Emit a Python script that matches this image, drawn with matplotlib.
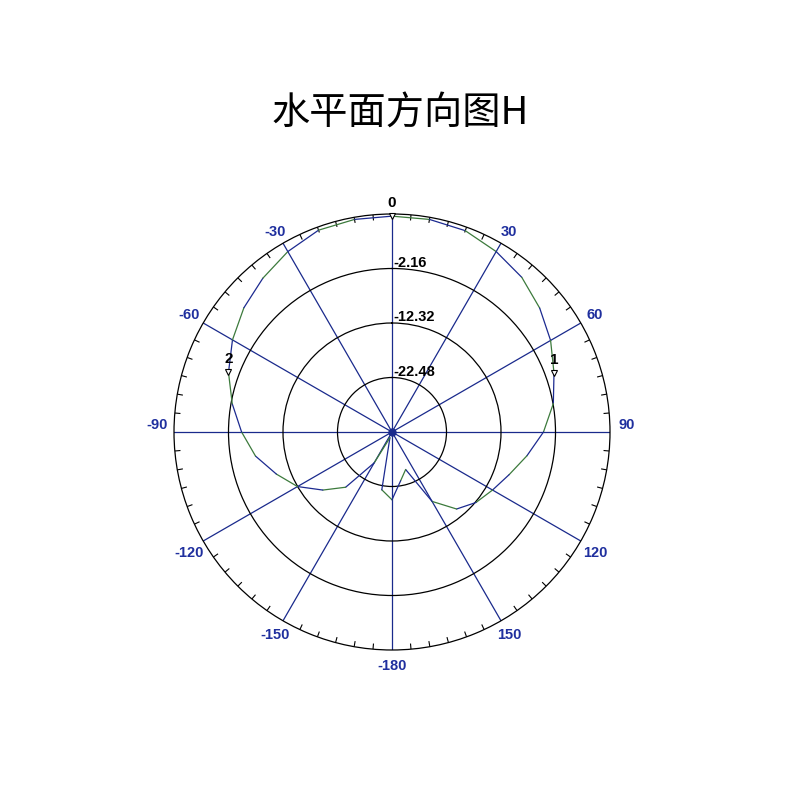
import numpy as np
import matplotlib
matplotlib.use("Agg")
import matplotlib.pyplot as plt

# ---- data ----
title_text = "水平面方向图H"
angles_deg = [-180, -170, -160, -150, -140, -130, -120, -110, -100, -90,
              -80, -70, -60, -50, -40, -30, -20, -10, 0, 10,
              20, 30, 40, 50, 60, 70, 80, 90, 100, 110,
              120, 130, 140, 150, 160, 170]
gain_db = [-20.0, -21.7, -31.5, -26.0, -19.2, -15.8, -12.3, -9.7, -6.8, -4.6,
           -2.4, -0.2, 1.7, 3.4, 4.8, 6.2, 7.4, 7.6, 7.6, 7.6,
           7.3, 6.2, 5.0, 3.3, 1.5, -0.5, -2.1, -4.4, -7.1, -9.4,
           -11.0, -12.2, -13.9, -17.7, -25.2, -23.4]
ring_levels = [-22.48, -12.32, -2.16]
ring_labels = ["-22.48", "-12.32", "-2.16"]
r_min, r_max = -32.64, 8.00
spoke_angles = [0, 30, 60, 90, 120, 150, 180, 210, 240, 270, 300, 330]
angle_label_pos = [30, 60, 90, 120, 150, 180, -150, -120, -90, -60, -30]
angle_label_txt = ["30", "60", "90", "120", "150", "-180", "-150", "-120", "-90", "-60", "-30"]
marker_angles = [0, 70, -70]
marker_names = ["0", "1", "2"]

NAVY = "#1a2a8c"
LABEL_BLUE = "#1f2f9e"
GREEN = "#3c7a3c"
BLUE = "#1c2a90"

fig = plt.figure(figsize=(8, 8), dpi=100)
fig.patch.set_facecolor("white")
ax = fig.add_axes([0.2175, 0.1875, 0.545, 0.545], projection="polar")
ax.set_theta_zero_location("N")
ax.set_theta_direction(-1)
ax.set_rlim(r_min, r_max)
ax.set_rticks(ring_levels)
ax.set_yticklabels([])
ax.set_xticks(np.deg2rad(spoke_angles))
ax.set_xticklabels([])
ax.tick_params(axis="both", length=0)
ax.xaxis.grid(True, color=NAVY, lw=0.9, ls="-")
ax.yaxis.grid(True, color="black", lw=0.9, ls="-")
ax.spines["polar"].set_color("black")
ax.spines["polar"].set_linewidth(0.9)

# minor tick marks every 5 degrees on outer circle
for a in range(0, 360, 5):
    if a % 30:
        t = np.deg2rad(a)
        ax.plot([t, t], [r_max - 0.95, r_max], color="black", lw=0.8)

# pattern curve (alternating colored segments)
th = np.deg2rad(np.array(angles_deg + [angles_deg[0]], dtype=float))
gv = np.array(gain_db + [gain_db[0]], dtype=float)
for k in range(len(angles_deg)):
    col = GREEN if k % 2 == 0 else BLUE
    ax.plot(th[k:k + 2], gv[k:k + 2], color=col, lw=0.9, solid_capstyle="round")

# center dot
ax.plot([0], [r_min], "o", color=NAVY, ms=5, zorder=5)

# ring labels
for lv, lab in zip(ring_levels, ring_labels):
    ax.annotate(lab, xy=(0, lv), xytext=(1, -1), textcoords="offset points",
                ha="left", va="bottom", fontsize=10.5, fontweight="bold",
                family="Liberation Sans", color="black")

# angle labels
off_px = 16.5
for a, lab in zip(angle_label_pos, angle_label_txt):
    t = np.deg2rad(a)
    dx = off_px * np.sin(t) * 0.72
    dy = off_px * np.cos(t) * 0.72
    if abs(abs(a) - 90) < 1:
        dy += 5
    if abs(a) in (30, 120):
        dy -= 2.5
    ax.annotate(lab, xy=(t, r_max), xytext=(dx, dy), textcoords="offset points",
                ha="center", va="center", fontsize=10.5, fontweight="bold",
                family="Liberation Sans", color=LABEL_BLUE, annotation_clip=False)

# markers
lookup = dict(zip(angles_deg, gain_db))
for a, name in zip(marker_angles, marker_names):
    t = np.deg2rad(a)
    r = lookup[a]
    ax.plot([t], [r], marker="v", ms=4, mfc="white", mec="black", mew=0.8,
            clip_on=False, zorder=6)
    ax.annotate(name, xy=(t, r), xytext=(0, 9.5), textcoords="offset points",
                ha="center", va="center", fontsize=11, fontweight="bold",
                family="Liberation Sans", color="black", annotation_clip=False)

fig.text(0.5, 0.857, title_text, ha="center", va="center", fontsize=27.5,
         family=["Noto Sans CJK SC", "DejaVu Sans"], color="black")

fig.savefig("out.png", dpi=100, facecolor="white")
